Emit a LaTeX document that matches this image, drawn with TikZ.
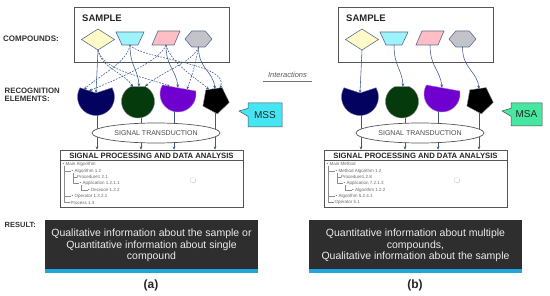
\documentclass[tikz,border=0pt]{standalone}
\usepackage{fontspec}
\setmainfont{Liberation Sans}
\usetikzlibrary{shapes.geometric,shapes.callouts,arrows.meta}
\definecolor{conncol}{HTML}{3B5A8E}
\definecolor{cmpline}{HTML}{5B6E8F}
\definecolor{cyellow}{HTML}{FFFBC8}
\definecolor{ccyan}{HTML}{9EF2FA}
\definecolor{cpink}{HTML}{FFBDC6}
\definecolor{cgrey}{HTML}{C3C4C9}
\definecolor{rnavy}{HTML}{03035F}
\definecolor{rgreen}{HTML}{053A0C}
\definecolor{rpurple}{HTML}{7000D0}
\definecolor{boxline}{HTML}{555555}
\definecolor{resfill}{HTML}{2E2E2E}
\definecolor{resblue}{HTML}{1EA7DE}
\definecolor{msscol}{HTML}{45E6F3}
\definecolor{msacol}{HTML}{45E89E}
\definecolor{treetxt}{HTML}{666666}
\tikzset{
  boxst/.style={draw=boxline, line width=0.7pt},
  conn/.style={draw=conncol, line width=0.55pt, -{Stealth[length=3.2pt,width=2.8pt]}},
  dconn/.style={conn, dash pattern=on 1.8pt off 1.2pt},
  stem/.style={draw=conncol, line width=0.55pt},
  cmp/.style={draw=cmpline, line width=0.6pt},
  cbox/.style={inner sep=0pt, outer sep=0pt},
  lbl/.style={anchor=west, inner sep=0pt, text=black!80, font=\bfseries\fontsize{8}{9}\selectfont},
  treet/.style={anchor=west, inner sep=0pt, text=treetxt, font=\fontsize{4.5}{5}\selectfont},
  treel/.style={draw=black!45, line width=0.3pt},
  restxt/.style={align=center, inner sep=0pt, text=white!92!black, font=\fontsize{10.5}{11.6}\selectfont},
  callst/.style={rectangle callout, draw=black!70, line width=0.5pt, inner sep=0pt, callout pointer width=8pt, font=\fontsize{10}{12}\selectfont, text=black!85},
}
\newcommand\drawpanel[9]{%
  % sample box and compounds
  \node[boxst, minimum width=155pt, minimum height=55pt, inner sep=0pt] (samplebox) at (151.5,34.5) {};
  \node[anchor=west, inner sep=0pt, font=\bfseries\fontsize{9.5}{11}\selectfont, text=black!85] (sampletxt) at (82,18.5) {SAMPLE};
  \node[cbox, minimum width=33pt, minimum height=21pt] (cd) at (98,39.5) {};
  \draw[cmp, fill=cyellow] (cd.west) -- (cd.north) -- (cd.east) -- (cd.south) -- cycle;
  \node[cbox, minimum width=28pt, minimum height=13pt] (ct) at (130,38.5) {};
  \draw[cmp, fill=ccyan] (ct.north west) -- (ct.north east) -- ([xshift=-6pt]ct.south east) -- ([xshift=6pt]ct.south west) -- cycle;
  \node[cbox, minimum width=28pt, minimum height=14pt] (cp) at (166,38) {};
  \draw[cmp, fill=cpink] ([xshift=6pt]cp.north west) -- (cp.north east) -- ([xshift=-6pt]cp.south east) -- (cp.south west) -- cycle;
  \node[cbox, minimum width=27pt, minimum height=16pt] (ch) at (198.5,39) {};
  \draw[cmp, fill=cgrey] (ch.west) -- ([xshift=6.75pt]ch.north west) -- ([xshift=-6.75pt]ch.north east) -- (ch.east) -- ([xshift=-6.75pt]ch.south east) -- ([xshift=6.75pt]ch.south west) -- cycle;
  % recognition elements
  \coordinate (ra) at (96,93);
  \coordinate (rb) at (139,86.6);
  \coordinate (rc) at (178,87.6);
  \coordinate (rd) at (215,88.9);
  \filldraw[fill=rnavy, draw=rnavy!55!white, line width=0.4pt] (80,87.75) arc[start angle=150, end angle=390, radius=18.5pt] -- (ra) -- cycle;
  \filldraw[fill=rgreen, draw=black!50, line width=0.4pt] (131.03,86.55) arc[start angle=115, end angle=425, radius=16.5pt] -- cycle;
  \filldraw[fill=rpurple, draw=rpurple!55!white, line width=0.4pt] (162.41,85) arc[start angle=150, end angle=369.6, radius=18pt] -- cycle;
  \filldraw[fill=black, draw=black!45, line width=0.4pt] (222.1,87.6) -- (205.8,89.9) -- (202.9,106.1) -- (217.4,113.9) -- (229.3,102.4) -- cycle;
  % solid connectors
  \draw[conn] (cd.south) -- (ra);
  \draw[conn] (ct.south) .. controls +(0,22) and +(-1,-18) .. (rb);
  \draw[conn] (cp.south) .. controls +(0,22) and +(-2,-18) .. (rc);
  \draw[conn] (ch.south) .. controls +(0,22) and +(-2,-18) .. (rd);
  % processing box, stems
  \coordinate (stc) at (156,133);
  \node[boxst, minimum width=183pt, minimum height=57pt, inner sep=0pt] (spbox) at (151.5,178.5) {};
  \coordinate (sa) at (97,115.4);
  \coordinate (sb) at (141,117.6);
  \coordinate (sc) at (174,111.4);
  \coordinate (sd) at (215,112.5);
  \foreach \s in {sa,sb,sc,sd}{
    \draw[stem] (\s) -- (\s |- stc);
    \draw[conn] (\s |- stc) -- (\s |- spbox.north);
  }
  \node[ellipse, draw=boxline, line width=0.7pt, fill=white, minimum width=128pt, minimum height=20pt, inner sep=0pt, font=\fontsize{7}{8}\selectfont, text=black!70] (st) at (stc) {SIGNAL TRANSDUCTION};
  \node[font=\bfseries\fontsize{7.7}{9}\selectfont, inner sep=0pt, text=black!85] (sptitle) at (151.5,155.6) {SIGNAL PROCESSING AND DATA ANALYSIS};
  \draw[boxst, line width=0.5pt] ([yshift=-10.5pt]spbox.north west) -- ([yshift=-10.5pt]spbox.north east);
  % tree
  \node[treet] (tr1) at (62.5,164) {• #1};
  \node[treet] (tr2) at (71.5,171) {• #2};
  \node[treet] (tr3) at (77,177) {#3};
  \node[treet] (tr4) at (79.5,183) {• #4};
  \node[treet] (tr5) at (88,190) {• #5};
  \node[treet] (tr6) at (71.5,196.5) {• #6};
  \node[treet] (tr7) at (70.5,202.5) {#7};
  \draw[treel] (64,166) -- (64,202.5) -- (70,202.5) (64,171) -- (71,171) (64,196.5) -- (71,196.5);
  \draw[treel] (73,173) -- (73,183) -- (79,183) (73,177) -- (76.5,177);
  \draw[treel] (81,185) -- (81,190) -- (87.5,190);
  % spinner
  \coordinate (spin) at (193,180);
  \foreach \k in {1,...,8}{
    \fill[black!\the\numexpr 8+4*\k\relax] (spin) ++(\k*45:2.8pt) circle (0.65pt);
  }
  % result
  \node[minimum width=213pt, minimum height=49pt, inner sep=0pt, fill=resfill] (resbox) at (151.5,244.5) {};
  \fill[resblue] (resbox.south west) rectangle ([yshift=-4pt]resbox.south east);
  \node[restxt] (restext) at (151.5,245.5) {#8};
  \node[inner sep=0pt, font=\bfseries\fontsize{12}{14}\selectfont, text=black!85] (plabel) at (151,285) {#9};
}
\begin{document}
\begin{tikzpicture}[x=1pt,y=-1pt]
\fill[white] (0,0) rectangle (550,296);
\useasboundingbox (0,0) rectangle (550,296);
% left labels
\node[lbl] (lcomp) at (3,38.5) {COMPOUNDS:};
\node[lbl, align=left, font=\bfseries\fontsize{7.8}{8.6}\selectfont] (lrec) at (4.5,95) {RECOGNITION\\ELEMENTS:};
\node[lbl, font=\bfseries\fontsize{7.5}{9}\selectfont] (lres) at (4.5,224.5) {RESULT:};
% panel a
\begin{scope}[name prefix=a-]
\drawpanel{Main Algorithm}{Algorithm 1.2}{Procedure1 2.1}{Application 1.2.1.1}{Decision 1.2.2}{Operator 1.2.2.1}{Process 1.3}{Qualitative information about the sample or\\Quantitative information about single\\compound}{(a)}
\coordinate (rag) at (133,87.2);
\coordinate (rpd) at (170,86.4);
\coordinate (rnt) at (84,89.5);
\coordinate (rbt) at (220,88.2);
\coordinate (rnp) at (89,90.8);
\coordinate (rbp) at (209,89.4);
\coordinate (rgh) at (145,86.6);
\coordinate (rph) at (187,89.3);
\draw[dconn] (cd.south) .. controls +(3,18) and +(-8,-14) .. (rag);
\draw[dconn] (cd.south) .. controls +(6,22) and +(-25,-10) .. (rpd);
\draw[dconn] (ct.south) .. controls +(-3,18) and +(15,-14) .. (rnt);
\draw[dconn] (ct.south) .. controls +(10,14) and +(10,-25) .. (rbt);
\draw[dconn] (cp.south) .. controls +(-5,15) and +(30,-12) .. (rnp);
\draw[dconn] (cp.south) .. controls +(5,18) and +(-14,-12) .. (rbp);
\draw[dconn] (ch.south) .. controls +(-5,15) and +(15,-14) .. (rgh);
\draw[dconn] (ch.south) .. controls +(-3,18) and +(5,-14) .. (rph);
\end{scope}
% panel b
\begin{scope}[xshift=264pt, name prefix=b-]
\drawpanel{Main Method}{Method Algorithm 1.2}{Procedure1.2.8}{Application 7.2.1.3}{Algorithm 1.2.2}{Algorithm 5.2.4.1}{Operator 5.1}{Quantitative information about multiple\\compounds,\\Qualitative information about the sample}{(b)}
\end{scope}
% interactions
\node[font=\itshape\fontsize{7.5}{9}\selectfont, text=black!65, inner sep=0pt] (inter) at (287.5,75) {Interactions};
\draw[black!55, line width=0.5pt] ([shift={(-5pt,-3pt)}]inter.south west) -- ([shift={(5pt,-3pt)}]inter.south east);
% callouts
\node[callst, fill=msscol, minimum width=34pt, minimum height=24pt, callout absolute pointer={(239,111)}] (mss) at (265,115) {MSS};
\node[callst, fill=msacol, minimum width=31pt, minimum height=23pt, callout absolute pointer={(502,111)}] (msa) at (526.5,114.5) {MSA};
\end{tikzpicture}
\end{document}
